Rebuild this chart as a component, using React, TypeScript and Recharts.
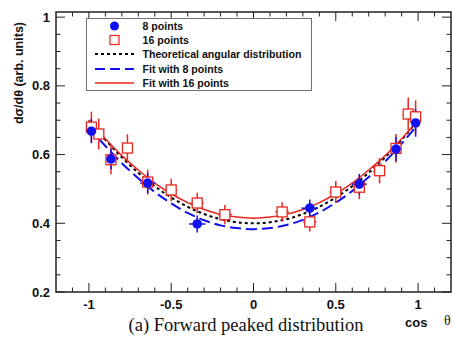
import React from 'react';
import { ComposedChart, Line, Scatter, XAxis, YAxis, ErrorBar, ReferenceArea, Legend } from 'recharts';

// ---- data ----
const curveX = [-1, -0.9, -0.8, -0.7, -0.6, -0.5, -0.4, -0.3, -0.2, -0.1, 0, 0.1, 0.2, 0.3, 0.4, 0.5, 0.6, 0.7, 0.8, 0.9, 1];
const theory = [0.70, 0.643, 0.592, 0.547, 0.508, 0.475, 0.448, 0.427, 0.412, 0.403, 0.400, 0.403, 0.412, 0.427, 0.448, 0.475, 0.508, 0.547, 0.592, 0.643, 0.70];
const fit8 = [0.678, 0.625, 0.575, 0.531, 0.491, 0.458, 0.430, 0.409, 0.394, 0.386, 0.383, 0.386, 0.395, 0.410, 0.432, 0.460, 0.494, 0.535, 0.580, 0.632, 0.688];
const fit16 = [0.700, 0.646, 0.597, 0.555, 0.517, 0.486, 0.460, 0.440, 0.426, 0.418, 0.415, 0.418, 0.426, 0.440, 0.460, 0.486, 0.517, 0.555, 0.597, 0.646, 0.700];

const cos8 = [-0.985, -0.866, -0.643, -0.342, 0.342, 0.643, 0.866, 0.985];
const val8 = [0.668, 0.587, 0.517, 0.398, 0.444, 0.514, 0.616, 0.692];
const errY8 = [0.035, 0.03, 0.03, 0.025, 0.025, 0.03, 0.035, 0.04];
const errX8 = [0.01, 0.03, 0.045, 0.05, 0.05, 0.045, 0.03, 0.01];

const cos16 = [-0.985, -0.940, -0.866, -0.766, -0.643, -0.500, -0.342, -0.174, 0.174, 0.342, 0.500, 0.643, 0.766, 0.866, 0.940, 0.985];
const val16 = [0.68, 0.66, 0.585, 0.619, 0.52, 0.497, 0.459, 0.425, 0.433, 0.404, 0.491, 0.505, 0.553, 0.618, 0.718, 0.71];
const errY16 = [0.045, 0.045, 0.042, 0.04, 0.036, 0.033, 0.03, 0.028, 0.028, 0.028, 0.032, 0.035, 0.037, 0.042, 0.048, 0.048];
const errX16 = [0.008, 0.015, 0.02, 0.028, 0.033, 0.037, 0.04, 0.042, 0.042, 0.04, 0.037, 0.033, 0.028, 0.02, 0.015, 0.008];

const xTicks = [-1.1, -1, -0.9, -0.8, -0.7, -0.6, -0.5, -0.4, -0.3, -0.2, -0.1, 0, 0.1, 0.2, 0.3, 0.4, 0.5, 0.6, 0.7, 0.8, 0.9, 1, 1.1];
const yTicks = [0.2, 0.25, 0.3, 0.35, 0.4, 0.45, 0.5, 0.55, 0.6, 0.65, 0.7, 0.75, 0.8, 0.85, 0.9, 0.95, 1];

const legendLabels = ['8 points', '16 points', 'Theoretical angular distribution', 'Fit with 8 points', 'Fit with 16 points'];
const xTitle = 'cos';
const yTitle = 'dσ/dθ (arb. units)';
const caption = '(a)  Forward peaked distribution';

// ---- layout / style ----
const W = 452, H = 337;
const PL = 56, PR = 451, PT = 12, PB = 292;
const RED = '#e8261f';
const BLUE = '#1010f0';
const SANS = '"Liberation Sans", Arial, Helvetica, sans-serif';
const SERIF = '"Liberation Serif", "Times New Roman", serif';

const curveData = curveX.map((x, i) => ({ x, theory: theory[i], fit8: fit8[i], fit16: fit16[i] }));
const pts8 = cos8.map((x, i) => ({ x, y: val8[i], ey: errY8[i], ex: errX8[i] }));
const pts16 = cos16.map((x, i) => ({ x, y: val16[i], ey: errY16[i], ex: errX16[i] }));

const isMult = (v: number, k: number) => Math.abs(v * k - Math.round(v * k)) < 1e-6;

const XTick = (props: any) => {
  const { x, payload } = props;
  const v = payload.value;
  const major = isMult(v, 2);
  const len = major ? 9 : 4.5;
  return (
    <g>
      <line x1={x} x2={x} y1={PB} y2={PB - len} stroke="#222" strokeWidth={1} />
      <line x1={x} x2={x} y1={PT} y2={PT + len} stroke="#222" strokeWidth={1} />
      {major && (
        <text x={x} y={309} textAnchor="middle" fontFamily={SANS} fontWeight="bold" fontSize={13} fill="#111">
          {String(v)}
        </text>
      )}
    </g>
  );
};

const YTick = (props: any) => {
  const { y, payload } = props;
  const v = payload.value;
  const major = isMult(v, 5);
  const len = major ? 9 : 4.5;
  return (
    <g>
      <line x1={PL} x2={PL + len} y1={y} y2={y} stroke="#222" strokeWidth={1} />
      <line x1={PR} x2={PR - len} y1={y} y2={y} stroke="#222" strokeWidth={1} />
      {major && (
        <text x={50} y={y + 4.5} textAnchor="end" fontFamily={SANS} fontWeight="bold" fontSize={13} fill="#111">
          {String(v)}
        </text>
      )}
    </g>
  );
};

const XLabel = () => (
  <g>
    <text x={405} y={327} fontFamily={SANS} fontWeight="bold" fontSize={13} fill="#111">{xTitle}</text>
    <text x={444} y={325} fontFamily={SERIF} fontSize={14} fill="#111">θ</text>
    <text x={246} y={331} textAnchor="middle" fontFamily={SERIF} fontSize={18.5} fill="#111">{caption}</text>
  </g>
);

const YLabel = () => (
  <text
    x={0}
    y={0}
    transform="translate(23 22) rotate(-90)"
    textAnchor="end"
    fontFamily={SANS}
    fontWeight="bold"
    fontSize={12.5}
    fill="#111"
  >
    {yTitle}
  </text>
);

const Square = (props: any) => {
  const { cx, cy } = props;
  return <rect x={cx - 5} y={cy - 5} width={10} height={10} fill="#fff" stroke={RED} strokeWidth={1.3} />;
};
const Dot = (props: any) => {
  const { cx, cy } = props;
  return <circle cx={cx} cy={cy} r={4.8} fill={BLUE} />;
};

const LegendBox = () => {
  const sym = (i: number) => {
    if (i === 0) return <circle cx={27.5} cy={7} r={4.5} fill={BLUE} />;
    if (i === 1) return <rect x={23} y={2.5} width={9} height={9} fill="#fff" stroke={RED} strokeWidth={1.2} />;
    if (i === 2) return <line x1={8} x2={47} y1={7} y2={7} stroke="#000" strokeWidth={2} strokeDasharray="3 3" />;
    if (i === 3) return <line x1={8} x2={47} y1={7} y2={7} stroke={BLUE} strokeWidth={2} strokeDasharray="10 5" />;
    return <line x1={8} x2={47} y1={7} y2={7} stroke={RED} strokeWidth={1.6} />;
  };
  return (
    <div
      style={{
        width: 226,
        height: 73,
        border: '1.5px solid #707070',
        boxSizing: 'border-box',
        background: '#fff',
        fontFamily: SANS,
        fontWeight: 'bold',
        fontSize: 10.6,
        color: '#111',
        paddingTop: 0,
      }}
    >
      {legendLabels.map((lab, i) => (
        <div key={lab} style={{ display: 'flex', alignItems: 'center', height: 14.2, lineHeight: '14px' }}>
          <svg width={55.5} height={14} style={{ flex: 'none' }}>{sym(i)}</svg>
          <span style={{ whiteSpace: 'nowrap' }}>{lab}</span>
        </div>
      ))}
    </div>
  );
};

export default function App() {
  return (
    <div style={{ position: 'absolute', left: 0, top: 0, width: W, height: H, background: '#fff' }}>
      <ComposedChart width={W} height={H} data={curveData} margin={{ top: PT, right: W - PR, bottom: 0, left: 0 }}>
        <XAxis
          dataKey="x"
          type="number"
          domain={[-1.2, 1.2]}
          ticks={xTicks}
          interval={0}
          allowDataOverflow
          height={H - PB}
          axisLine={false}
          tickLine={false}
          tick={XTick}
          label={XLabel}
        />
        <YAxis
          type="number"
          domain={[0.2, 1.015]}
          ticks={yTicks}
          interval={0}
          allowDataOverflow
          width={PL}
          axisLine={false}
          tickLine={false}
          tick={YTick}
          label={YLabel}
        />
        <ReferenceArea x1={-1.2} x2={1.2} y1={0.2} y2={1.015} fill="none" stroke="#222" strokeWidth={1.5} fillOpacity={0} />
        <Line dataKey="theory" type="monotone" stroke="#000" strokeWidth={2} strokeDasharray="3 3" dot={false} isAnimationActive={false} />
        <Line dataKey="fit8" type="monotone" stroke={BLUE} strokeWidth={2} strokeDasharray="11 5" dot={false} isAnimationActive={false} />
        <Line dataKey="fit16" type="monotone" stroke={RED} strokeWidth={1.5} dot={false} isAnimationActive={false} />
        <Scatter data={pts16} dataKey="y" shape={Square} isAnimationActive={false}>
          <ErrorBar dataKey="ey" direction="y" width={0} stroke={RED} strokeWidth={1.5} isAnimationActive={false} />
          <ErrorBar dataKey="ex" direction="x" width={0} stroke={RED} strokeWidth={1.5} isAnimationActive={false} />
        </Scatter>
        <Scatter data={pts8} dataKey="y" shape={Dot} isAnimationActive={false}>
          <ErrorBar dataKey="ey" direction="y" width={0} stroke={BLUE} strokeWidth={1.5} isAnimationActive={false} />
          <ErrorBar dataKey="ex" direction="x" width={0} stroke={BLUE} strokeWidth={1.5} isAnimationActive={false} />
        </Scatter>
        <Legend
          layout="vertical"
          align="center"
          verticalAlign="middle"
          content={LegendBox}
          wrapperStyle={{ left: 86, top: 18, width: 226, height: 73 }}
        />
      </ComposedChart>
    </div>
  );
}
